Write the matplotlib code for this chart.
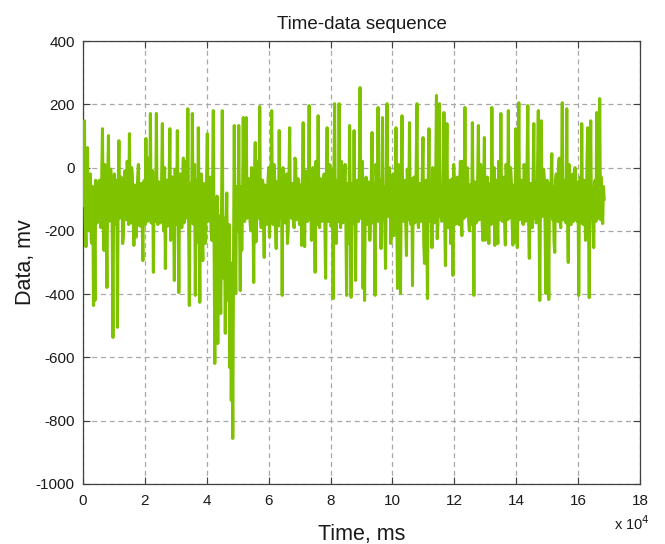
import numpy as np
import matplotlib.pyplot as plt
from matplotlib.ticker import FuncFormatter

# sampled signal (mv), one value every 242 ms
dt_ms = 242
data_mv = [
    -120, -40, 148, -170, -250, 0, 63, -160, -200, -45, -20, -230, -240, -60, -436, -150, -420, -40, -60, -175,
    -170, -50, -40, -165, -190, -35, 123, -155, -262, 10, -30, -180, -379, -45, 101, -170, -160, -5, -50, -185,
    -537, -55, -20, -175, -180, -40, -505, -65, 85, -160, -150, -30, -45, -240, -210, -50, -10, -150, -165, 20,
    -60, -180, 107, -155, -175, 0, -35, -165, -246, -55, -70, -220, -140, -30, 10, -160, -185, -60, -50, -170,
    -294, -45, -40, -180, 92, -150, -170, 30, -60, -165, 171, -175, -150, -10, -331, -40, -30, -170, 171, -160,
    -180, -45, -50, -175, -160, -35, 139, -165, -200, 0, -319, -40, -40, -185, -170, -50, 123, -230, -140, -30,
    -30, -170, -357, -5, -60, -180, 117, -150, -395, -55, -20, -165, -190, -40, 30, -175, -150, 20, -70, -160,
    186, -165, -436, -50, -50, -175, 171, -155, -180, 10, -404, -60, -40, -235, 126, -160, -426, -45, -20, -180,
    -294, -50, -60, -240, -200, -40, 107, -170, -160, -55, -30, -200, -230, -70, 180, -250, -619, -120, -300, -90,
    -556, -150, -250, -380, -461, -120, 180, -300, -350, -160, -524, -200, -80, -330, -420, -180, -632, -300, -736, -420,
    -856, -300, 133, -250, -398, -80, -60, -200, 133, -180, -389, -60, -262, -120, 158, -170, -170, -40, 158, -160,
    -130, -35, -40, -170, -200, 0, -20, -165, -363, -45, 79, -235, -150, 20, -50, -160, 193, -150, -190, -40,
    -40, -170, -284, -55, -60, -180, -170, -40, 0, -220, -140, -35, 180, -165, -180, 10, -30, -175, -256, -45,
    -60, -185, 117, -160, -150, -30, -404, 0, -40, -170, -175, -45, -20, -240, -200, -40, 126, -155, -160, -50,
    -50, -175, -190, 30, 20, -165, -160, -35, -40, -180, -180, -55, -246, -45, 142, -160, -250, -10, -30, -170,
    -170, -45, 196, -165, -60, -230, -150, 0, -30, -160, -331, 20, -50, -180, 164, -150, -190, -35, -40, -170,
    -160, -50, -20, -175, -350, -40, 126, -165, -170, 10, -60, -185, -180, -5, -414, -60, 202, -160, -240, -50,
    -40, -170, 202, -155, -190, 20, -30, -175, -150, -40, 10, -165, -404, -50, -60, -240, 133, -160, -410, -55,
    -50, -175, 117, -150, -357, -45, -40, -170, -170, 0, 253, -160, -140, 20, -382, -40, -420, -60, -30, -180,
    -180, -45, -60, -230, -160, -35, 111, -175, -50, -160, -404, 10, -30, -170, 190, -150, -170, -40, -256, -50,
    158, -165, -60, -180, -319, -45, 202, -155, -150, 0, -40, -240, -190, -50, -20, -215, -160, -35, 126, -160,
    -382, 10, -50, -170, -398, -40, 164, -160, -170, -45, -40, -180, -278, -5, -60, -165, 142, -150, -180, -35,
    -373, -45, -30, -175, -160, 20, 202, -165, -190, -55, -50, -170, -150, -35, 95, -235, -303, -50, -40, -180,
    -414, -50, 123, -160, -170, -45, -253, 0, -40, -175, -150, -35, 228, -225, -180, -50, 202, -155, -60, -170,
    -160, -40, 174, -165, -310, -50, 139, -170, -190, -45, -40, -240, -160, -35, -341, 10, -50, -180, -170, -40,
    -30, -165, -180, -45, 20, -175, -215, 20, -60, -160, 190, -155, -150, 0, -40, -170, -200, -55, -70, -180,
    142, -160, -404, -45, -50, -175, -170, -40, 133, -165, -160, 10, -40, -170, -230, -55, 95, -230, -180, -35,
    -30, -170, -240, -50, -60, -180, 190, -160, -160, 0, -246, -55, -40, -175, -240, 20, -70, -165, 171, -155,
    -170, -40, -30, -175, -245, 10, -60, -165, 180, -160, -150, 0, -40, -170, -245, -55, -80, -235, 123, -160,
    -253, -45, 205, -165, -140, -40, -40, -175, -180, 10, -20, -170, -160, 20, 196, -160, -287, -55, -50, -180,
    -190, -45, 139, -160, -60, -175, -170, 0, 180, -165, -420, -50, 148, -155, -150, -5, -30, -170, -398, -45,
    -40, -180, -417, -50, -150, -40, 44, -165, -60, -235, -268, -45, -20, -160, -170, 15, 30, -170, -190, -50,
    205, -165, -160, -45, -40, -175, 186, -160, -300, 10, -50, -180, -180, -40, -20, -170, -150, 0, -60, -165,
    -170, -45, -404, -55, -30, -175, 139, -160, -180, -40, -50, -230, -160, 20, 126, -165, -411, -50, 148, -160,
    -60, -175, -253, -45, -40, -170, 174, -155, -160, 5, 218, -165, -30, -150, -177, -60, -100,
]
time_ms = np.arange(len(data_mv)) * dt_ms

x_ticks = np.arange(0, 180001, 20000)
y_ticks = np.arange(-1000, 401, 200)

plt.rcParams['font.family'] = ['Liberation Sans', 'DejaVu Sans']
plt.rcParams['axes.unicode_minus'] = False

fig = plt.figure(figsize=(6.65, 5.44), dpi=100)
ax = fig.add_axes([0.1248, 0.1103, 0.8376, 0.8143])

ax.plot(time_ms, data_mv, color='#7fc300', lw=2.2, zorder=3)

ax.set_xlim(0, 180000)
ax.set_ylim(-1000, 400)
ax.set_xticks(x_ticks)
ax.set_yticks(y_ticks)
ax.xaxis.set_major_formatter(FuncFormatter(lambda v, p: f"{v / 1e4:g}"))

ax.grid(True, color='#a8a8a8', linestyle=(0, (4, 3)), linewidth=0.9)
ax.tick_params(direction='in', top=True, right=True, length=5, width=0.8,
               color='#404040', labelsize=11, labelcolor='#1a1a1a')
ax.tick_params(axis='y', pad=6)
ax.tick_params(axis='x', pad=7)
for s in ax.spines.values():
    s.set_color('#404040')
    s.set_linewidth(0.9)

ax.set_title("Time-data sequence", fontsize=13.5, color='#1a1a1a', pad=9)
ax.set_xlabel("Time, ms", fontsize=15.5, color='#1a1a1a', labelpad=12)
ax.set_ylabel("Data, mv", fontsize=15.5, color='#1a1a1a', labelpad=0)
ax.text(1.018, -0.068, r"x 10$^4$", transform=ax.transAxes, ha='right', va='top',
        fontsize=10.5, color='#1a1a1a')

fig.savefig("out.png", dpi=100)
